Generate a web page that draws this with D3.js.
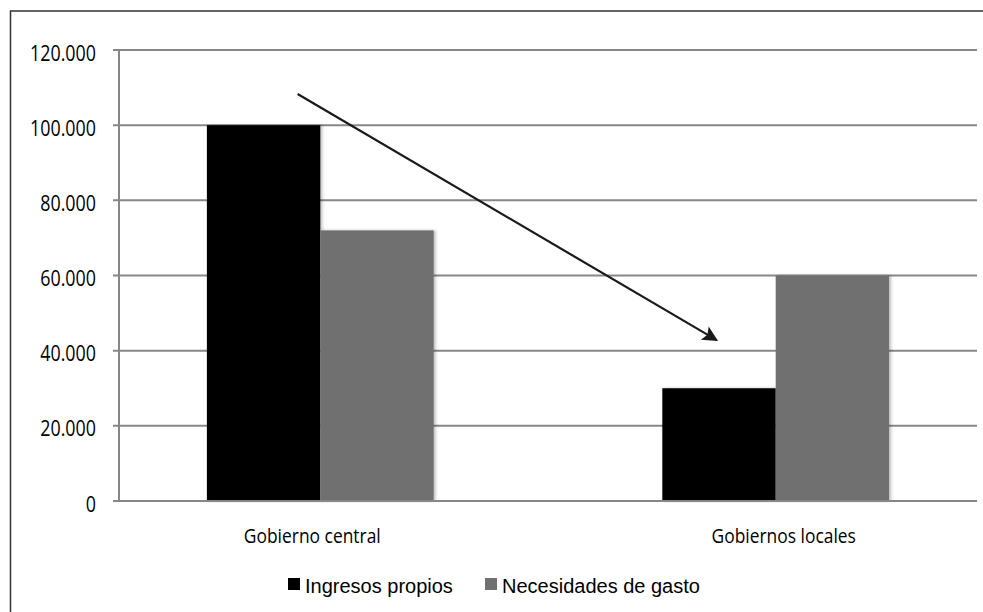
<!DOCTYPE html>
<html>
<head>
<meta charset="utf-8">
<script src="https://cdn.jsdelivr.net/npm/d3@7"></script>
<style>
  html, body { margin: 0; padding: 0; background: #fff; }
  svg { display: block; }
</style>
</head>
<body>
<svg id="chart" width="983" height="612"></svg>
<script>
// Data
const categories = ["Gobierno central", "Gobiernos locales"];
const seriesNames = ["Ingresos propios", "Necesidades de gasto"];
const ingresosPropios = [100000, 30000];
const necesidadesGasto = [72000, 60000];
const yTicks = [0, 20000, 40000, 60000, 80000, 100000, 120000];
const seriesColors = ["#000000", "#707070"];

// Arrow annotation: from a point over the first group to one over the second
const arrowFrom = { category: "Gobierno central", frac: 0.40, value: 108300 };
const arrowTo = { category: "Gobiernos locales", frac: 0.24, value: 42800 };

const svg = d3.select("#chart");
const margin = { left: 119, right: 977, top: 50, bottom: 501 };

const x0 = d3.scaleBand()
  .domain(categories)
  .range([margin.left, margin.right])
  .paddingInner(0.502)
  .paddingOuter(0.193);

const x1 = d3.scaleBand()
  .domain(seriesNames)
  .range([0, x0.bandwidth()])
  .padding(0);

// Category label positions along the same axis
const xLabel = d3.scalePoint()
  .domain(categories)
  .range([margin.left, margin.right])
  .padding(0.41);

const y = d3.scaleLinear()
  .domain([0, 120000])
  .range([margin.bottom, margin.top]);

const fmt = d => d3.format(",")(d).replace(/,/g, ".");

// Narrow the humanist face to a condensed look
function condense(sel, k) {
  sel.each(function () {
    const len = this.getComputedTextLength();
    d3.select(this)
      .attr("textLength", len * k)
      .attr("lengthAdjust", "spacingAndGlyphs");
  });
}

// Outer frame
svg.append("rect")
  .attr("x", 10.5).attr("y", 11)
  .attr("width", 1000).attr("height", 700)
  .attr("fill", "none")
  .attr("stroke", "#333")
  .attr("stroke-width", 1.5);

const defs = svg.append("defs");
const shadow = defs.append("filter").attr("id", "barShadow")
  .attr("x", "-10%").attr("y", "-10%").attr("width", "130%").attr("height", "120%");
shadow.append("feDropShadow")
  .attr("dx", 2).attr("dy", 0).attr("stdDeviation", 1.5)
  .attr("flood-color", "#000").attr("flood-opacity", 0.25);

defs.append("marker")
  .attr("id", "arrowHead")
  .attr("viewBox", "0 0 10 10")
  .attr("refX", 9).attr("refY", 5)
  .attr("markerWidth", 9.5).attr("markerHeight", 7)
  .attr("markerUnits", "strokeWidth")
  .attr("orient", "auto")
  .append("path")
  .attr("d", "M0,0 L10,5 L0,10 L2,5 Z")
  .attr("fill", "#1a1a1a");

// Horizontal gridlines with tick stubs
svg.append("g")
  .selectAll("line")
  .data(yTicks)
  .join("line")
  .attr("x1", margin.left - 6)
  .attr("x2", margin.right)
  .attr("y1", d => y(d))
  .attr("y2", d => y(d))
  .attr("stroke", "#878787")
  .attr("stroke-width", 2);

// Vertical axis line
svg.append("line")
  .attr("x1", margin.left).attr("x2", margin.left)
  .attr("y1", y(120000)).attr("y2", y(0))
  .attr("stroke", "#878787")
  .attr("stroke-width", 2);

// Y tick labels
svg.append("g")
  .selectAll("text")
  .data(yTicks)
  .join("text")
  .attr("x", 96)
  .attr("y", d => y(d))
  .attr("dy", "0.5em")
  .attr("text-anchor", "end")
  .attr("font-family", "'Open Sans', sans-serif")
  .attr("font-size", 21)
  .attr("fill", "#000")
  .text(d => fmt(d))
  .call(condense, 0.85);

// Bars
const rows = categories.map((c, i) => ({
  category: c,
  values: [ingresosPropios[i], necesidadesGasto[i]]
}));

const groups = svg.append("g")
  .selectAll("g")
  .data(rows)
  .join("g")
  .attr("transform", d => `translate(${x0(d.category)},0)`);

groups.selectAll("rect")
  .data(d => d.values.map((v, j) => ({ series: seriesNames[j], value: v, color: seriesColors[j] })))
  .join("rect")
  .attr("x", d => x1(d.series))
  .attr("y", d => y(d.value))
  .attr("width", x1.bandwidth())
  .attr("height", d => y(0) - y(d.value))
  .attr("fill", d => d.color)
  .attr("filter", "url(#barShadow)");

// Redraw baseline above the bars
svg.append("line")
  .attr("x1", margin.left - 6).attr("x2", margin.right)
  .attr("y1", y(0)).attr("y2", y(0))
  .attr("stroke", "#878787")
  .attr("stroke-width", 2);

// Category labels
svg.append("g")
  .selectAll("text")
  .data(categories)
  .join("text")
  .attr("x", d => xLabel(d))
  .attr("y", 543)
  .attr("text-anchor", "middle")
  .attr("font-family", "'Open Sans', sans-serif")
  .attr("font-size", 20)
  .attr("fill", "#000")
  .text(d => d)
  .call(condense, 0.87);

// Arrow
svg.append("line")
  .attr("x1", x0(arrowFrom.category) + arrowFrom.frac * x0.bandwidth())
  .attr("y1", y(arrowFrom.value))
  .attr("x2", x0(arrowTo.category) + arrowTo.frac * x0.bandwidth())
  .attr("y2", y(arrowTo.value))
  .attr("stroke", "#1a1a1a")
  .attr("stroke-width", 2.2)
  .attr("marker-end", "url(#arrowHead)");

// Legend
const legendX = [288, 485];
const legend = svg.append("g")
  .selectAll("g")
  .data(seriesNames)
  .join("g")
  .attr("transform", (d, i) => `translate(${legendX[i]},578)`);

legend.append("rect")
  .attr("width", 12).attr("height", 12)
  .attr("fill", (d, i) => seriesColors[i]);

legend.append("text")
  .attr("x", 17)
  .attr("y", 15)
  .attr("font-family", "'Liberation Sans', Arial, sans-serif")
  .attr("font-size", 20)
  .attr("fill", "#000")
  .text(d => d);
</script>
</body>
</html>
